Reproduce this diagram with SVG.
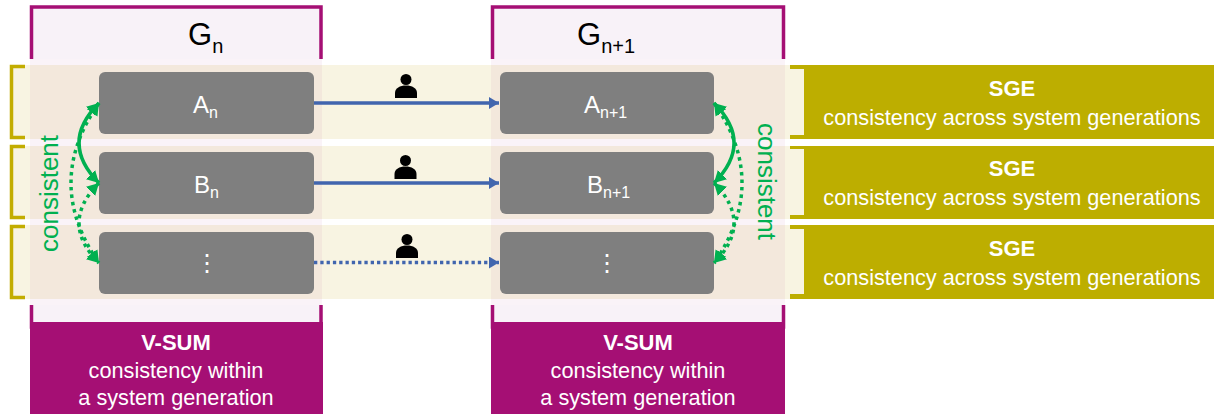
<svg xmlns="http://www.w3.org/2000/svg" width="1214" height="414" viewBox="0 0 1214 414">
<style>
text{font-family:"Liberation Sans",Arial,sans-serif}
.frame{fill:#f8f2f8;stroke:#a50f74;stroke-width:3.500}
.tint{fill:#a50f74;fill-opacity:.05}
.band{fill:#f8f4e2}
.brk{fill:#f8f4e2;stroke:#c2ad00;stroke-width:3.500}
.olive{fill:#bdae00}
.purple{fill:#a50f74}
.node{fill:#7f7f7f}
.nt{fill:#fff;font-size:24px}
.dots{fill:#fff;font-size:24px;text-anchor:middle}
.sub{font-size:16px}
.h{fill:#000;font-size:31px}
.hs{font-size:20px}
.w{fill:#fff;font-size:21.700px;text-anchor:middle}
.b{font-weight:bold;font-size:22px}
.g{fill:#00b050;font-size:26px;text-anchor:middle}
.blue{fill:none;stroke:#4165ae;stroke-width:3.300;marker-end:url(#ab)}
.dot{stroke-dasharray:3.300 3}
.gr{fill:none;stroke:#00b050;stroke-width:3.500;marker-start:url(#ag);marker-end:url(#ag)}
.gd{stroke-dasharray:3.500 4}
</style>
<defs>
<marker id="ab" markerUnits="userSpaceOnUse" markerWidth="12" markerHeight="12" refX="10" refY="6" orient="auto"><path d="M0 0L10 6L0 12Z" fill="#4165ae"/></marker>
<marker id="ag" markerUnits="userSpaceOnUse" markerWidth="14" markerHeight="14" refX="12" refY="7" orient="auto-start-reverse"><path d="M0 0.500L12 7L0 13.500Z" fill="#00b050"/></marker>
<g id="person"><circle cx="0" cy="-18.500" r="5.500"/><path d="M-11 0V-5C-11-10-6-12.500 0-12.500S11-10 11-5V0Z"/></g>
</defs>
<rect width="1214" height="414" fill="#fff"/>
<g id="left-frames">
<rect class="brk" x="11.500" y="66.500" width="30" height="71"/>
<rect class="brk" x="11.500" y="146.500" width="30" height="71"/>
<rect class="brk" x="11.500" y="226.500" width="30" height="71"/>
</g>
<g id="right-frames">
<rect class="olive" x="790" y="65" width="424" height="74"/>
<rect class="olive" x="790" y="146" width="424" height="73"/>
<rect class="olive" x="790" y="225" width="424" height="74"/>
<rect class="band" x="790" y="69" width="14" height="66"/>
<rect class="band" x="790" y="149" width="14" height="66"/>
<rect class="band" x="790" y="229" width="14" height="65"/>
</g>
<g id="column-frames">
<rect class="frame" x="31.500" y="7" width="289.500" height="320"/>
<rect class="frame" x="492.500" y="7" width="291" height="320"/>
</g>
<rect x="25" y="59" width="764" height="246" fill="#fff"/>
<g id="bands">
<rect class="band" x="25" y="65" width="765" height="74"/>
<rect class="band" x="25" y="146" width="765" height="73"/>
<rect class="band" x="25" y="225" width="765" height="74"/>
<rect class="tint" x="30" y="59" width="292" height="246"/>
<rect class="tint" x="491" y="59" width="294" height="246"/>
</g>
<g id="node-Gn"><text class="h" x="188" y="45">G<tspan class="hs" dy="8">n</tspan></text></g>
<g id="node-Gn1"><text class="h" x="577" y="45">G<tspan class="hs" dy="8">n+1</tspan></text></g>
<g id="node-An"><rect class="node" x="99" y="72" width="215" height="62" rx="6"/><text class="nt" x="193" y="113">A<tspan class="sub" dy="5">n</tspan></text></g>
<g id="node-Bn"><rect class="node" x="99" y="152" width="215" height="62" rx="6"/><text class="nt" x="194" y="193">B<tspan class="sub" dy="5">n</tspan></text></g>
<g id="node-Cn"><rect class="node" x="99" y="232" width="215" height="62" rx="6"/><text class="dots" x="207" y="271">⋮</text></g>
<g id="node-An1"><rect class="node" x="500" y="72" width="214" height="62" rx="6"/><text class="nt" x="584" y="113">A<tspan class="sub" dy="5">n+1</tspan></text></g>
<g id="node-Bn1"><rect class="node" x="500" y="152" width="214" height="62" rx="6"/><text class="nt" x="587" y="193">B<tspan class="sub" dy="5">n+1</tspan></text></g>
<g id="node-Cn1"><rect class="node" x="500" y="232" width="214" height="62" rx="6"/><text class="dots" x="607" y="271">⋮</text></g>
<g id="connectors">
<path class="blue" d="M314 103H499"/>
<path class="blue" d="M314 183H499"/>
<path class="blue dot" d="M314 262.500H499"/>
<path class="gr" d="M99 103Q59 143 99 183"/>
<path class="gr gd" d="M99 103Q43 183 99 263"/>
<path class="gr gd" d="M99 183Q59 223 99 263"/>
<path class="gr" d="M714 103Q754 143 714 183"/>
<path class="gr gd" d="M714 103Q770 183 714 263"/>
<path class="gr gd" d="M714 183Q754 223 714 263"/>
</g>
<g id="persons">
<use href="#person" x="406" y="98"/>
<use href="#person" x="405.500" y="179"/>
<use href="#person" x="407" y="258"/>
</g>
<g id="label-consistent-left"><text class="g" transform="translate(58 193.500) rotate(-90)">consistent</text></g>
<g id="label-consistent-right"><text class="g" transform="translate(758 181.500) rotate(90)">consistent</text></g>
<g id="node-VSUM1"><rect class="purple" x="30" y="322" width="293" height="92"/>
<text class="w b" x="176" y="350">V-SUM</text><text class="w" x="176" y="378">consistency within</text><text class="w" x="176" y="405">a system generation</text></g>
<g id="node-VSUM2"><rect class="purple" x="491" y="322" width="294" height="92"/>
<text class="w b" x="638" y="350">V-SUM</text><text class="w" x="638" y="378">consistency within</text><text class="w" x="638" y="405">a system generation</text></g>
<g id="node-SGE1"><text class="w b" x="1012" y="96">SGE</text><text class="w" x="1012" y="125">consistency across system generations</text></g>
<g id="node-SGE2"><text class="w b" x="1012" y="176">SGE</text><text class="w" x="1012" y="205">consistency across system generations</text></g>
<g id="node-SGE3"><text class="w b" x="1012" y="256">SGE</text><text class="w" x="1012" y="285">consistency across system generations</text></g>
</svg>
